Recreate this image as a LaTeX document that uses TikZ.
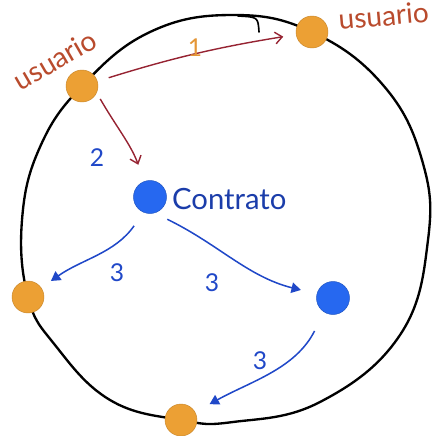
\documentclass[tikz,border=0pt]{standalone}
\usepackage{fontspec}
\setmainfont{Lato}
\usepackage{xcolor}
\usepackage{tikz}
\definecolor{dotorange}{RGB}{236,160,52}
\definecolor{dotblue}{RGB}{38,104,240}
\definecolor{inkred}{RGB}{150,35,50}
\definecolor{inkblue}{RGB}{32,72,200}
\definecolor{namered}{RGB}{185,75,45}
\definecolor{numorange}{RGB}{228,150,55}
\usetikzlibrary{arrows.meta,positioning,calc}

\begin{document}
\begin{tikzpicture}[
    x=0.03cm, y=-0.03cm,
    user/.style={circle, fill=dotorange, draw=dotorange!85!black, line width=0.4pt, minimum size=0.96cm, inner sep=0pt},
    deal/.style={circle, fill=dotblue, draw=dotblue!80!black, line width=0.4pt, minimum size=0.99cm, inner sep=0pt},
    rim/.style={line width=2pt, line cap=round, line join=round},
    redarrow/.style={-{Straight Barb[length=6pt,width=10pt]}, inkred, line width=1.2pt},
    bluearrow/.style={-{Triangle[length=8pt,width=9pt]}, inkblue, line width=1.3pt},
    usertag/.style={text=namered, font=\fontsize{24}{26}\selectfont, inner sep=1pt},
    steplabel/.style={text=inkblue, font=\fontsize{21}{23}\selectfont}
]
\useasboundingbox (0,0) rectangle (445,435);

% hand drawn ring
\draw[rim] plot[smooth cycle, tension=0.7] coordinates {
    (82,86) (150,32) (233,15) (312,32) (383,85) (422,160) (428,240)
    (400,335) (320,402) (233,422) (181,420) (110,400) (55,345)
    (28,297) (22,220) (40,147)};
\draw[rim, line width=1.4pt] (238,16) .. controls (258,17) .. (259,32);

% nodes
\node[user] (u1) at (82,86) {};
\node[user] (u2) at (312,32) {};
\node[user] (u3) at (28,297) {};
\node[user] (u4) at (181,420) {};
\node[deal] (contract) at (150,197) {};
\node[deal] (c2) at (333,298) {};

\node[usertag, rotate=30] (n1) at (55,60) {usuario};
\node[usertag, rotate=5, anchor=base west] (n2) at (338,30) {usuario};
\node[text=inkblue!85!black, font=\fontsize{25}{27}\selectfont, anchor=west] (ctext) at (168,199) {Contrato};

% arrows
\draw[redarrow, shorten <=10pt, shorten >=11pt] (u1) to[bend left=4] (u2);
\draw[redarrow, shorten <=6pt, shorten >=15pt] (u1.-25) to[out=-60, in=110] (contract);
\draw[bluearrow, shorten <=14pt, shorten >=10pt] (contract.-113) to[out=-125, in=35] (u3);
\draw[bluearrow, shorten <=12pt, shorten >=14pt] (contract.-74) to[out=-26, in=166] (c2);
\draw[bluearrow, shorten <=18pt, shorten >=14pt] (c2.-122) to[out=-117, in=29] (u4);

% step numbers
\node[steplabel, text=numorange] (s1) at (195,48) {1};
\node[steplabel] (s2) at (97,158) {2};
\node[steplabel] (s3a) at (117,273) {3};
\node[steplabel] (s3b) at (212,283) {3};
\node[steplabel] (s3c) at (260,361) {3};
\end{tikzpicture}
\end{document}
